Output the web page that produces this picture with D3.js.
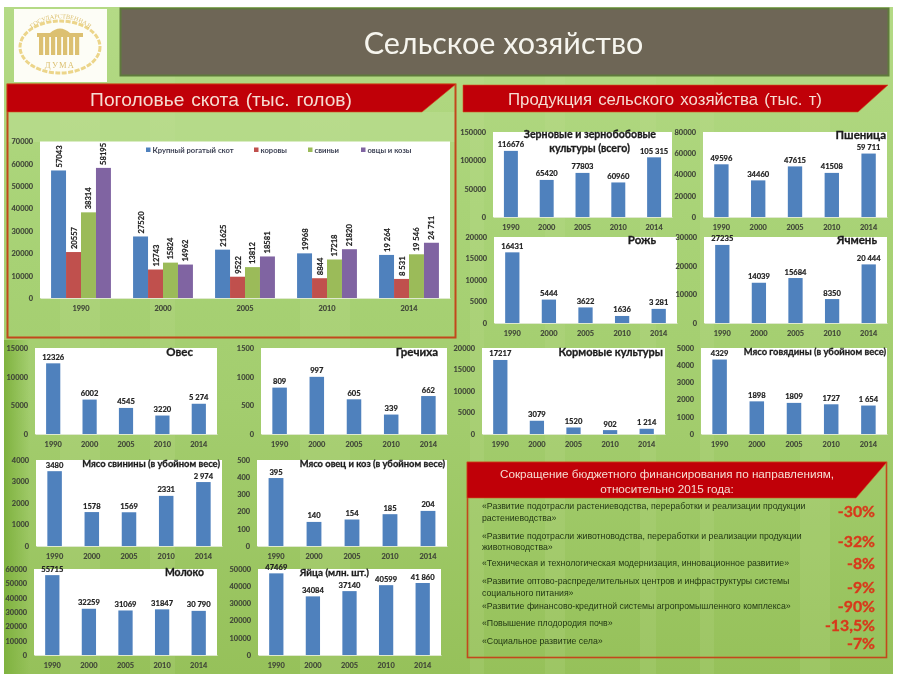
<!DOCTYPE html>
<html><head><meta charset="utf-8">
<script src="https://cdn.jsdelivr.net/npm/d3@7"></script>
<style>
html,body{margin:0;padding:0;background:#fff;overflow:hidden}
svg{display:block;filter:blur(.4px)}
.ax text{font:700 7.4px Lato,"Open Sans",sans-serif;fill:#3f4438;stroke:#3f4438;stroke-width:.12px}
.val{font:700 7.6px Lato,"Open Sans",sans-serif;fill:#222;stroke:#222;stroke-width:.2px}
.ct{font-family:Lato,"Open Sans",sans-serif;font-weight:700;fill:#1c1c1c;stroke:#1c1c1c;stroke-width:.3px}
</style></head><body><div id="c"></div>
<script>
const years=["1990","2000","2005","2010","2014"];
const livestockSeries=["Крупный рогатый скот","коровы","свиньи","овцы и козы"];
const cattle=[57043,27520,21625,19968,19264];
const cows=[20557,12743,9522,8844,8531];
const pigs=[38314,15824,13812,17218,19546];
const sheep=[58195,14962,18581,21820,24711];
const grain=[116676,65420,77803,60960,105315];
const wheat=[49596,34460,47615,41508,59711];
const rye=[16431,5444,3622,1636,3281];
const barley=[27235,14039,15684,8350,20444];
const fodder=[17217,3079,1520,902,1214];
const beef=[4329,1898,1809,1727,1654];
const oats=[12326,6002,4545,3220,5274];
const buckwheat=[809,997,605,339,662];
const pork=[3480,1578,1569,2331,2974];
const mutton=[395,140,154,185,204];
const milk=[55715,32259,31069,31847,30790];
const eggs=[47469,34084,37140,40599,41860];
const budgetItems=[["«Развитие подотрасли растениеводства, переработки и реализации продукции","растениеводства»"],["«Развитие подотрасли животноводства, переработки и реализации продукции","животноводства»"],["«Техническая и технологическая модернизация, инновационное развитие»"],["«Развитие оптово-распределительных центров и инфраструктуры системы","социального питания»"],["«Развитие финансово-кредитной системы агропромышленного комплекса»"],["«Повышение плодородия почв»"],["«Социальное развитие села»"]];
const budgetCuts=["-30%","-32%","-8%","-9%","-90%","-13,5%","-7%"];

const colors=["#4f81bd","#c0504d","#9bbb59","#8064a2"];
const svg=d3.select("#c").append("svg").attr("width",900).attr("height",679);
const defs=svg.append("defs");
const g1=defs.append("linearGradient").attr("id","bg").attr("x1",0).attr("x2",0).attr("y1",0).attr("y2",1);
[[0,"#b4da86"],[.3,"#a9d377"],[.6,"#a3cd6e"],[1,"#96c15a"]].forEach(d=>g1.append("stop").attr("offset",d[0]).attr("stop-color",d[1]));
const g3=defs.append("linearGradient").attr("id","edge");
[[0,"#7fb23f"],[1,"#7fb23f00"]].forEach(d=>g3.append("stop").attr("offset",d[0]).attr("stop-color",d[1]));
const red="#c00008";

svg.append("rect").attr("x",4).attr("y",7).attr("width",889).attr("height",667).attr("fill","url(#bg)");
svg.append("rect").attr("x",4).attr("y",340).attr("width",26).attr("height",334).attr("fill","url(#edge)");
// soft vertical streaks of the slide background
[[60,40],[150,25],[300,50],[470,14],[545,20],[640,16],[700,14],[800,30]].forEach(s=>svg.append("rect").attr("x",s[0]).attr("y",7).attr("width",s[1]).attr("height",667).attr("fill","#c4e29e").attr("opacity",.16));
svg.append("rect").attr("x",8).attr("y",112).attr("width",447).attr("height",30).attr("fill","#c0e09a").attr("opacity",.4);

// logo
const logo=svg.append("g");
logo.append("rect").attr("x",14).attr("y",9).attr("width",93).attr("height",73).attr("fill","#fdfdf6");
const gold="#ecd58a";
logo.append("ellipse").attr("cx",60).attr("cy",47).attr("rx",40).attr("ry",26).attr("fill","none").attr("stroke",gold).attr("stroke-width",3).attr("stroke-dasharray","5 1.5");
d3.range(7).forEach(i=>logo.append("rect").attr("x",39+i*6).attr("y",36).attr("width",4.2).attr("height",19).attr("fill","#dcc071"));
logo.append("rect").attr("x",37).attr("y",33).attr("width",46).attr("height",4).attr("fill","#dcc071");
logo.append("path").attr("d","M50 33 Q60 24 70 33Z").attr("fill","#dcc071");
logo.append("text").attr("x",60).attr("y",68).attr("text-anchor","middle").attr("font-family","Liberation Serif").attr("font-size",8.5).attr("letter-spacing",1.2).attr("fill","#dcc071").text("ДУМА");
defs.append("path").attr("id","arc").attr("d","M25 40 A36 26 0 0 1 96 40");
logo.append("text").attr("font-family","Liberation Serif").attr("font-size",6.2).attr("fill","#dcc071").append("textPath").attr("href","#arc").attr("startOffset","50%").attr("text-anchor","middle").text("ГОСУДАРСТВЕННАЯ");

// title
svg.append("rect").attr("x",120.5).attr("y",8.5).attr("width",768).attr("height",67).attr("fill","#6e6656").attr("stroke","#5f7a3c").attr("stroke-width",2);
svg.append("text").attr("x",503.5).attr("y",54).attr("text-anchor","middle").attr("font-family","Lato, Open Sans").attr("font-size",30.5).attr("fill","#f6f5ee").text("Сельское хозяйство");

function header(pts,lines,size,sp){
  svg.append("polygon").attr("points",pts.join(" ")).attr("fill",red).attr("stroke","#d2561f").attr("stroke-width",.6);
  lines.forEach(l=>svg.append("text").attr("x",l[0]).attr("y",l[1]).attr("text-anchor","middle").attr("font-family","Liberation Sans").attr("font-size",size).attr("word-spacing",sp||0).attr("fill","#f6dcd2").text(l[2]));
}
// livestock frame
svg.append("rect").attr("x",7.5).attr("y",84.5).attr("width",448).attr("height",253).attr("fill","none").attr("stroke","#c2481c").attr("stroke-width",2);
header([[7,84],[456,84],[422,112],[7,112]],[[221,106,"Поголовье скота (тыс. голов)"]],19.2,1.5);
header([[463,85],[888,85],[858,112],[463,112]],[[665,105,"Продукция сельского хозяйства (тыс. т)"]],16.8,1.5);

const fmt=(v,i)=>i===4?d3.format(",")(v).replace(/,/g," "):String(v);

function axes(g,x,y,h,ticks){
  const ya=g.append("g").attr("class","ax").call(d3.axisLeft(y).tickValues(ticks).tickFormat(d3.format("d")).tickSize(0).tickPadding(7));
  ya.select(".domain").remove();
  const xa=g.append("g").attr("class","ax").attr("transform",`translate(0,${h})`).call(d3.axisBottom(x).tickSize(0).tickPadding(8));
  xa.select(".domain").attr("stroke","#dfe9cf").attr("stroke-width",1);
}

// main livestock chart
(function(){
  const X0=40,Y0=141.5,W=410,H=156.5;
  const g=svg.append("g").attr("transform",`translate(${X0},${Y0})`);
  g.append("rect").attr("width",W).attr("height",H).attr("fill","#fff");
  const x=d3.scaleBand().domain(years).range([0,W]).paddingInner(.27).paddingOuter(.135);
  const s=d3.scaleBand().domain(d3.range(4)).range([0,x.bandwidth()]);
  const y=d3.scaleLinear().domain([0,70000]).range([H,0]);
  axes(g,x,y,H,d3.range(0,70001,10000));
  [cattle,cows,pigs,sheep].forEach((vals,k)=>{
    const yr=g.selectAll(null).data(vals).enter();
    yr.append("rect").attr("x",(d,i)=>x(years[i])+s(k)).attr("y",d=>y(d)).attr("width",s.bandwidth()).attr("height",d=>H-y(d)).attr("fill",colors[k]);
    yr.append("text").attr("class","val").attr("text-anchor","start").attr("dominant-baseline","central")
      .attr("transform",(d,i)=>`translate(${x(years[i])+s(k)+s.bandwidth()/2},${y(d)-3}) rotate(-90)`).text((d,i)=>fmt(d,i));
  });
  const lx=[106,214,268,321];
  livestockSeries.forEach((n,k)=>{
    g.append("rect").attr("x",lx[k]).attr("y",6).attr("width",4.5).attr("height",4.5).attr("fill",colors[k]);
    g.append("text").attr("x",lx[k]+6.5).attr("y",11.5).attr("font-family","Lato, Open Sans").attr("font-size",7.6).attr("font-weight",700).attr("fill","#3a3f52").text(n);
  });
})();

function small(vals,X0,X1,Y0,Y1,max,step,title){
  const W=X1-X0,H=Y1-Y0;
  const g=svg.append("g").attr("transform",`translate(${X0},${Y0})`);
  g.append("rect").attr("width",W).attr("height",H).attr("fill","#fff");
  const x=d3.scaleBand().domain(years).range([0,W]).paddingInner(.61).paddingOuter(.305);
  const y=d3.scaleLinear().domain([0,max]).range([H,0]);
  axes(g,x,y,H,d3.range(0,max+1,step));
  g.selectAll(null).data(vals).enter().append("rect").attr("x",(d,i)=>x(years[i])).attr("y",d=>y(d)).attr("width",x.bandwidth()).attr("height",d=>H-y(d)).attr("fill","#4f81bd");
  g.selectAll(null).data(vals).enter().append("text").attr("class","val").attr("text-anchor","middle").attr("x",(d,i)=>x(years[i])+x.bandwidth()/2).attr("y",d=>y(d)-3.5).text((d,i)=>fmt(d,i));
  svg.append("text").attr("class","ct").attr("x",title.x).attr("y",title.y).attr("text-anchor","end").attr("font-size",title.size).text(title.text);
}
small(grain,493,672,132,217,150000,50000,{text:"Зерновые и зернобобовые",x:656,y:138,size:10.6});
svg.append("text").attr("class","ct").attr("x",630).attr("y",152).attr("text-anchor","end").attr("font-size",10.6).text("культуры (всего)");
small(wheat,703,887,132,217,80000,20000,{text:"Пшеница",x:886,y:139,size:11.5});
small(rye,494,677,237,323,20000,5000,{text:"Рожь",x:656,y:244,size:11.5});
small(barley,704,887,237,323,30000,10000,{text:"Ячмень",x:877,y:244,size:11.5});
small(fodder,482,665,348,434,20000,5000,{text:"Кормовые культуры",x:663,y:356,size:11});
small(beef,701,887,348,434,5000,1000,{text:"Мясо говядины (в убойном весе)",x:886,y:355,size:9.4});
small(oats,35,217,348,434,15000,5000,{text:"Овес",x:193,y:356,size:11.5});
small(buckwheat,261,447,348,434,1500,500,{text:"Гречиха",x:438,y:356,size:11.5});
small(pork,36,222,460,546,4000,1000,{text:"Мясо свинины (в убойном весе)",x:220,y:467,size:9.4});
small(mutton,257,447,460,546,500,100,{text:"Мясо овец и коз (в убойном весе)",x:445,y:467,size:9.4});
small(milk,34,217,569,655,60000,10000,{text:"Молоко",x:204,y:576,size:10.4});
small(eggs,258,441,569,655,50000,10000,{text:"Яйца (млн. шт.)",x:369,y:576,size:9.8});

// budget panel
svg.append("rect").attr("x",467.5).attr("y",462.5).attr("width",419).attr("height",195).attr("fill","none").attr("stroke","#c2481c").attr("stroke-width",1.6);
header([[467,462],[887,462],[856,498],[467,498]],[[667,478,"Сокращение бюджетного финансирования по направлениям,"],[667,493,"относительно 2015 года:"]],11.7);
const lineY=[[509,521],[539,550],[566],[584,596],[609],[626],[644]];
const cutY=[517,547,569,593,612,631,649];
budgetItems.forEach((ls,i)=>{
  ls.forEach((t,j)=>svg.append("text").attr("x",482).attr("y",lineY[i][j]).attr("font-family","Liberation Sans").attr("font-size",8.75).attr("fill","#1f3312").text(t));
  svg.append("text").attr("x",875).attr("y",cutY[i]).attr("text-anchor","end").attr("font-family","Lato, Open Sans").attr("font-weight",700).attr("font-size",15.8).attr("fill","#d8391b").attr("stroke","#d8391b").attr("stroke-width",.35).text(budgetCuts[i]);
});
</script></body></html>
